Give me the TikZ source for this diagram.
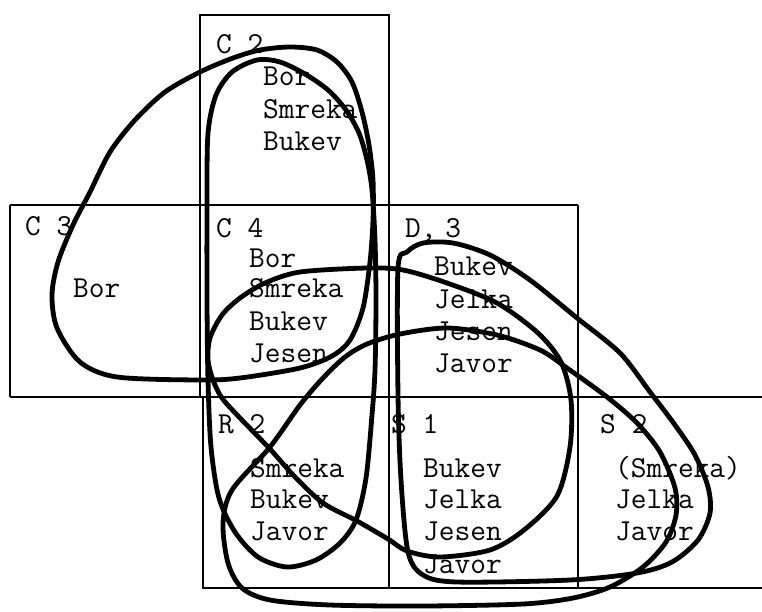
\documentclass[tikz,border=0pt]{standalone}
\usepackage{fontspec}
\begin{document}
\begin{tikzpicture}[x=1pt,y=-1pt,
  grid/.style={line width=1.8pt},
  loopline/.style={line width=4.8pt, line join=round},
  txt/.style={font=\ttfamily\fontsize{30.5}{30.5}\selectfont, anchor=base west, inner sep=0pt}]
\useasboundingbox (0,0) rectangle (762,611);
% grid
\draw[grid] (200,205) -- (200,15) -- (389,15) -- (389,205);
\draw[grid] (10,205) -- (578,205);
\draw[grid] (10,205) -- (10,397);
\draw[grid] (200,205) -- (200,397);
\draw[grid] (389,205) -- (389,588);
\draw[grid] (578,205) -- (578,588);
\draw[grid] (10,397) -- (762,397);
\draw[grid] (203,397) -- (203,588) -- (762,588);
% texts
\node[txt] (c2l) at (216,53) {C 2};
\node[txt] (c2a) at (263,85) {Bor};
\node[txt] (c2b) at (263,118) {Smreka};
\node[txt] (c2c) at (263,150) {Bukev};
\node[txt] (c3l) at (25,235) {C 3};
\node[txt] (c3a) at (73,297) {Bor};
\node[txt] (c4l) at (216,237) {C 4};
\node[txt] (c4a) at (249,267) {Bor};
\node[txt] (c4b) at (249,297) {Smreka};
\node[txt] (c4c) at (249,330) {Bukev};
\node[txt] (c4d) at (249,362) {Jesen};
\node[txt] (d3l) at (405,237) {D,\kern-7pt\ 3};
\node[txt] (d3a) at (434,275) {Bukev};
\node[txt] (d3b) at (434,308) {Jelka};
\node[txt] (d3c) at (434,340) {Jesen};
\node[txt] (d3d) at (434,372) {Javor};
\node[txt] (r2l) at (218,433) {R 2};
\node[txt] (r2a) at (250,477) {Smreka};
\node[txt] (r2b) at (250,508) {Bukev};
\node[txt] (r2c) at (250,540) {Javor};
\node[txt] (s1l) at (391,433) {S 1};
\node[txt] (s1a) at (423,477) {Bukev};
\node[txt] (s1b) at (423,508) {Jelka};
\node[txt] (s1c) at (423,540) {Jesen};
\node[txt] (s1d) at (423,573) {Javor};
\node[txt] (s2l) at (600,433) {S 2};
\node[txt] (s2a) at (615,477) {(Smreka)};
\node[txt] (s2b) at (615,508) {Jelka};
\node[txt] (s2c) at (615,540) {Javor};
% loops
\draw[loopline] plot[smooth cycle] coordinates {
 (290,47) (317,50) (337,62) (352,82) (362,112) (369,145) (373,180) (373,220)
 (370,262) (363,308) (350,340) (332,356) (300,368) (240,378) (200,380)
 (117,377) (80,362) (57,328) (52,295) (58,262) (73,225) (90,192) (110,152)
 (135,120) (165,92) (200,72) (233,58) (260,50)};
\draw[loopline] plot[smooth cycle] coordinates {
 (257,60) (280,62) (305,74) (328,90) (346,110) (359,133) (367,160) (372,190)
 (375,240) (376,300) (375,370) (372,415) (366,478) (356,520) (340,543)
 (316,560) (287,567) (258,557) (235,532) (219,498) (211,447) (208,380)
 (207,300) (207,200) (208,133) (216,95) (232,72)};
\draw[loopline] plot[smooth cycle] coordinates {
 (398,268) (407,252) (423,243) (453,243) (490,255) (530,280) (577,318)
 (620,353) (650,392) (675,425) (695,455) (708,487) (710,513) (698,540)
 (672,562) (637,573) (570,580) (457,582) (423,575) (408,552) (401,480)
 (398,395)};
\draw[loopline] plot[smooth cycle] coordinates {
 (270,447) (300,405) (323,378) (345,357) (367,344) (400,334) (447,328)
 (497,335) (540,350) (567,368) (607,397) (637,423) (660,452) (675,488)
 (676,515) (666,542) (643,567) (610,587) (573,598) (523,604) (423,606)
 (330,605) (270,600) (242,588) (228,563) (223,523) (232,490)};
\draw[loopline] plot[smooth cycle] coordinates {
 (300,272) (367,268) (403,270) (447,283) (497,303) (538,333) (561,362)
 (571,400) (570,447) (557,496) (524,530) (490,550) (440,557) (407,551)
 (388,539) (357,521) (323,503) (295,477) (270,449) (240,418) (222,398)
 (213,380) (208,360) (210,338) (222,315) (240,298) (265,283)};
\end{tikzpicture}
\end{document}
